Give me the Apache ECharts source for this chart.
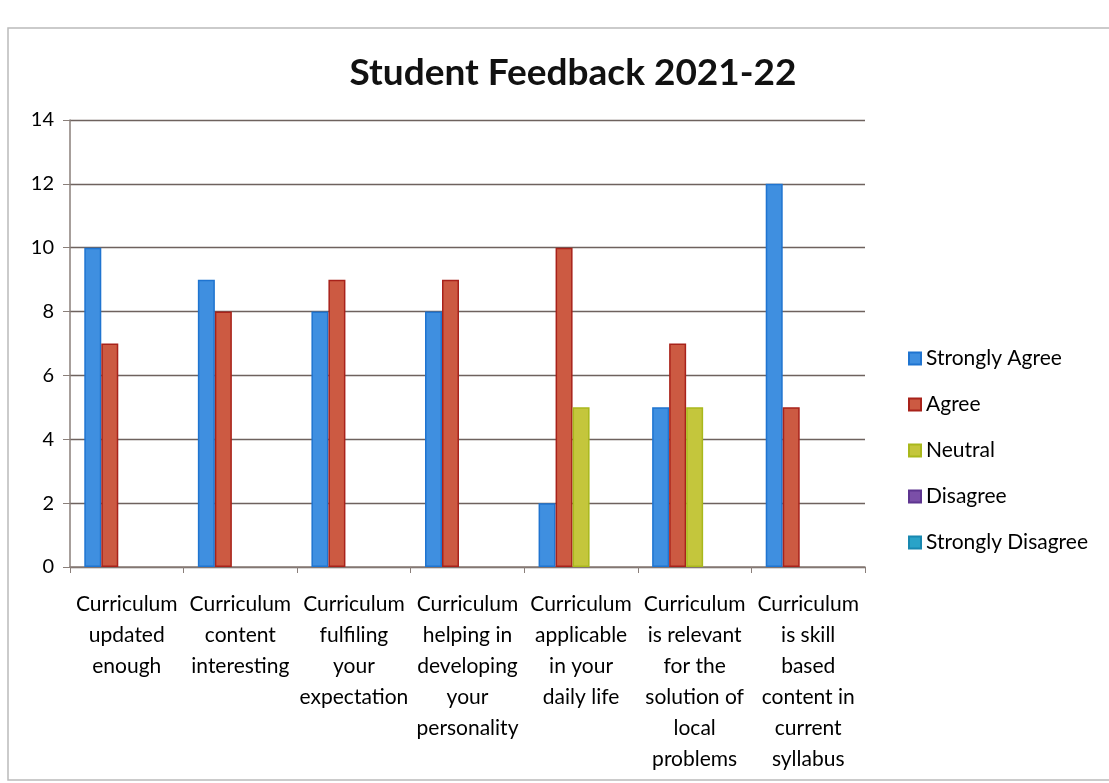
<!DOCTYPE html>
<html>
<head>
<meta charset="utf-8">
<script src="https://cdn.jsdelivr.net/npm/echarts@6/dist/echarts.min.js"></script>
<style>
  html, body { margin: 0; padding: 0; background: #fff; }
  #chart { width: 1109px; height: 783px; }
</style>
</head>
<body>
<div id="chart"></div>
<script>
// categories and values
var categories = [
  'Curriculum\nupdated\nenough',
  'Curriculum\ncontent\ninteresting',
  'Curriculum\nfulfiling\nyour\nexpectation',
  'Curriculum\nhelping in\ndeveloping\nyour\npersonality',
  'Curriculum\napplicable\nin your\ndaily life',
  'Curriculum\nis relevant\nfor the\nsolution of\nlocal\nproblems',
  'Curriculum\nis skill\nbased\ncontent in\ncurrent\nsyllabus'
];
var seriesNames = ['Strongly Agree', 'Agree', 'Neutral', 'Disagree', 'Strongly Disagree'];
var stronglyAgree = [10, 9, 8, 8, 2, 5, 12];
var agree = [7, 8, 9, 9, 10, 7, 5];
var neutral = [0, 0, 0, 0, 5, 5, 0];
var disagree = [0, 0, 0, 0, 0, 0, 0];
var stronglyDisagree = [0, 0, 0, 0, 0, 0, 0];
var yTicks = [0, 2, 4, 6, 8, 10, 12, 14];

var fills = ['#3f8fe0', '#cc5a42', '#c4c63c', '#7b4fa8', '#2aa3c8'];
var borders = ['#1f74d0', '#a8221a', '#a9b81c', '#5e3590', '#1888b0'];
var values = [stronglyAgree, agree, neutral, disagree, stronglyDisagree];

var chart = echarts.init(document.getElementById('chart'));

var series = seriesNames.map(function (name, i) {
  return {
    name: name,
    type: 'bar',
    // zero counts leave an empty slot, no outline
    data: values[i].map(function (v) { return v === 0 ? '-' : v; }),
    barWidth: 17,
    barGap: '0%',
    itemStyle: { color: fills[i], borderColor: borders[i], borderWidth: 1.5 }
  };
});

chart.setOption({
  backgroundColor: '#fff',
  textStyle: { fontFamily: 'Lato' },
  title: {
    text: 'Student Feedback 2021-22',
    left: 568,
    top: 50,
    textAlign: 'center',
    textStyle: { fontSize: 37, fontWeight: 'bold', color: '#111', fontFamily: 'Lato' }
  },
  legend: {
    orient: 'vertical',
    left: 903,
    top: 343,
    itemGap: 25,
    itemWidth: 12,
    itemHeight: 12,
    icon: 'rect',
    textStyle: { fontSize: 21, color: '#000', fontFamily: 'Lato' },
    data: seriesNames
  },
  grid: { left: 70, right: 244, top: 120, bottom: 216 },
  xAxis: {
    type: 'category',
    data: categories,
    axisLine: { lineStyle: { color: '#8a7f7a', width: 1.5 } },
    axisTick: { show: true, length: 6, lineStyle: { color: '#8a7f7a' } },
    axisLabel: {
      interval: 0,
      fontSize: 21,
      lineHeight: 31,
      color: '#000',
      margin: 22,
      fontFamily: 'Lato'
    }
  },
  yAxis: {
    type: 'value',
    min: 0,
    max: 14,
    interval: 2,
    axisLine: { show: true, lineStyle: { color: '#8a7f7a', width: 1.5 } },
    axisTick: { show: true, length: 7, lineStyle: { color: '#8a7f7a' } },
    axisLabel: {
      fontSize: 20,
      color: '#000',
      margin: 16,
      fontFamily: 'Lato',
      formatter: function (v) { return yTicks.indexOf(v) >= 0 ? String(v) : ''; }
    },
    splitLine: { lineStyle: { color: '#6e625e', width: 1.3 } }
  },
  graphic: [{
    type: 'rect',
    shape: { x: 8, y: 28, width: 1120, height: 752 },
    style: { fill: 'none', stroke: '#bbb', lineWidth: 1.5 }
  }],
  series: series
});
</script>
</body>
</html>
